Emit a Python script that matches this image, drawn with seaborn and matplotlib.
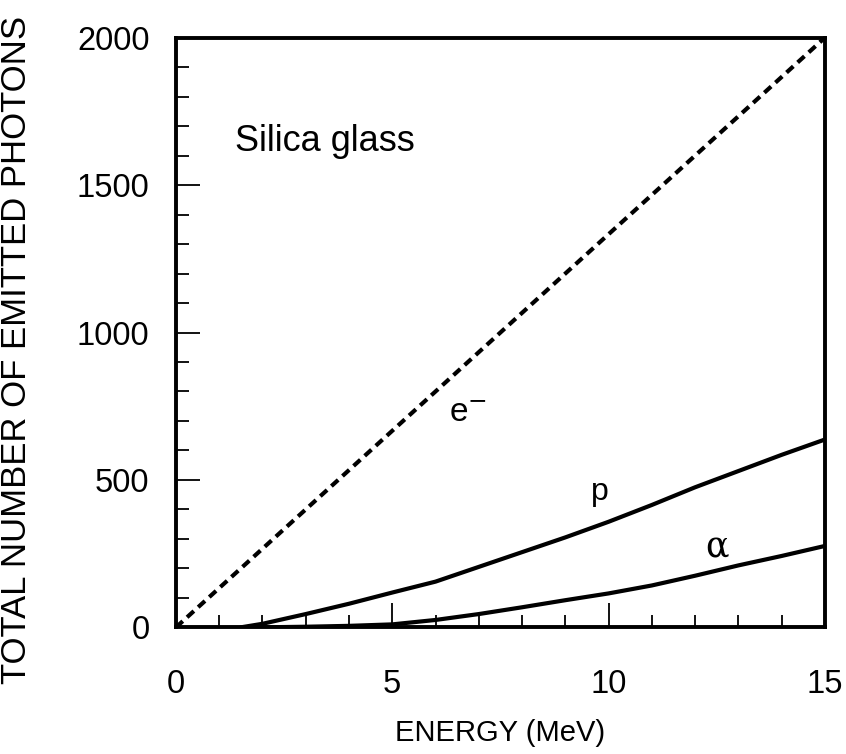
import matplotlib
matplotlib.use("Agg")
import matplotlib.pyplot as plt
from matplotlib.ticker import MultipleLocator
import seaborn as sns
import pandas as pd

# Total photon yield in silica glass versus particle energy
electron_energy = [0, 15]
electron_photons = [0, 2000]

proton_energy = [1.5, 2, 3, 4, 5, 6, 7, 8, 9, 10, 11, 12, 13, 14, 15]
proton_photons = [0, 12, 45, 80, 118, 155, 205, 255, 305, 358, 415, 475, 530, 585, 637]

alpha_energy = [2, 3, 4, 5, 6, 7, 8, 9, 10, 11, 12, 13, 14, 15]
alpha_photons = [0, 2, 5, 10, 25, 45, 68, 92, 115, 142, 175, 210, 242, 276]

x_ticks = [0, 5, 10, 15]
y_ticks = [0, 500, 1000, 1500, 2000]

sns.set_style("white", {"axes.edgecolor": "black", "text.color": "black",
                        "axes.labelcolor": "black", "xtick.color": "black",
                        "ytick.color": "black"})
plt.rcParams["font.family"] = ["Liberation Sans", "DejaVu Sans"]

fig = plt.figure(figsize=(8.46, 7.54), dpi=100)
ax = fig.add_axes([0.208, 0.168, 0.767, 0.782])

df_e = pd.DataFrame({"E": electron_energy, "N": electron_photons})
df_p = pd.DataFrame({"E": proton_energy, "N": proton_photons})
df_a = pd.DataFrame({"E": alpha_energy, "N": alpha_photons})

sns.lineplot(data=df_e, x="E", y="N", ax=ax, color="black", linewidth=3.0,
             linestyle=(0, (2.2, 1.4)), dash_capstyle="butt")
sns.lineplot(data=df_p, x="E", y="N", ax=ax, color="black", linewidth=3.0)
sns.lineplot(data=df_a, x="E", y="N", ax=ax, color="black", linewidth=3.0)

ax.set_xlim(0, 15)
ax.set_ylim(0, 2000)
ax.set_xticks(x_ticks)
ax.set_yticks(y_ticks)
ax.xaxis.set_minor_locator(MultipleLocator(1))
ax.yaxis.set_minor_locator(MultipleLocator(100))

ax.tick_params(which="both", direction="in", left=True, bottom=True,
               top=False, right=False, width=1.3, color="black",
               labelsize=23.5, labelcolor="black")
ax.tick_params(which="major", length=17)
ax.tick_params(which="minor", length=9)
ax.tick_params(axis="x", which="major", pad=30)
ax.tick_params(axis="y", which="major", pad=19)

for side in ax.spines.values():
    side.set_linewidth(2.8)
    side.set_color("black")

ax.set_xlabel("ENERGY (MeV)", fontsize=21, labelpad=14)
ax.set_ylabel("TOTAL NUMBER OF EMITTED PHOTONS", fontsize=25)
ax.yaxis.set_label_coords(-0.22, 0.47)

ax.text(1.36, 1615, "Silica glass", fontsize=26, va="baseline", ha="left")
ax.text(6.75, 725, r"e$^{\mathsf{-}}$", fontsize=24, va="center", ha="center")
ax.text(9.8, 460, "p", fontsize=23, va="center", ha="center")
ax.text(12.5, 272, "α", fontsize=25, va="center", ha="center",
        family="DejaVu Serif")

fig.savefig("out.png", dpi=100)
